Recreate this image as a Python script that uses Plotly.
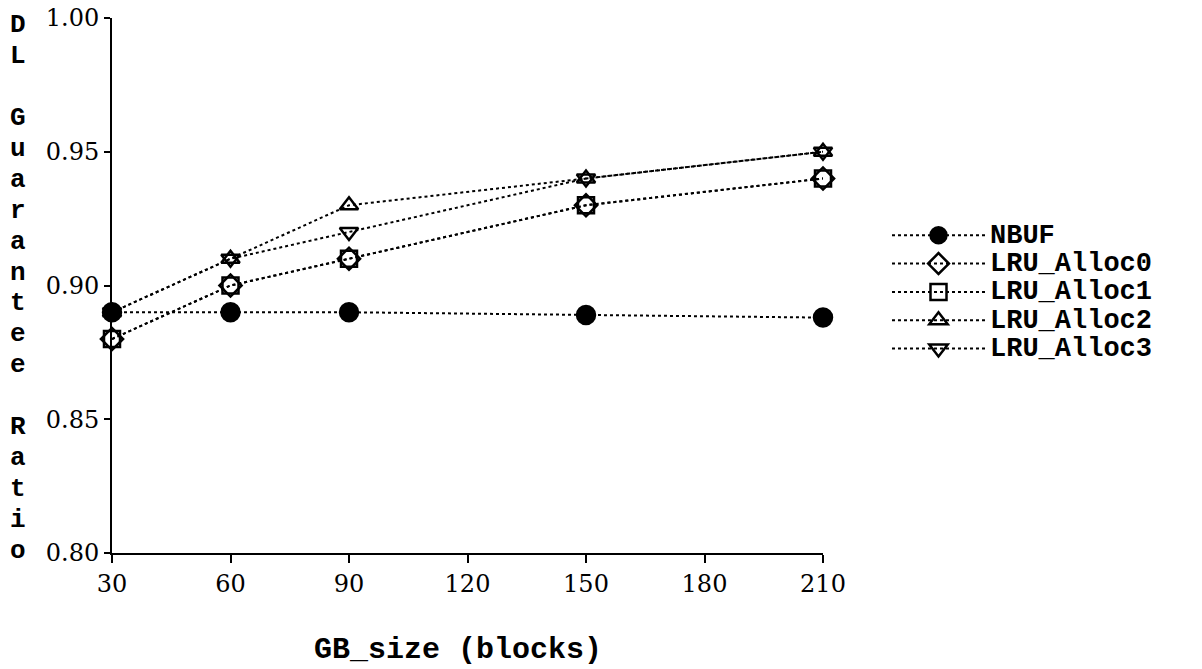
import plotly.graph_objects as go

gb_size = [30, 60, 90, 150, 210]
nbuf = [0.89, 0.89, 0.89, 0.889, 0.888]
lru_alloc0 = [0.88, 0.90, 0.91, 0.93, 0.94]
lru_alloc1 = [0.88, 0.90, 0.91, 0.93, 0.94]
lru_alloc2 = [0.89, 0.91, 0.93, 0.94, 0.95]
lru_alloc3 = [0.89, 0.91, 0.92, 0.94, 0.95]

x_ticks = [30, 60, 90, 120, 150, 180, 210]
y_ticks = [0.80, 0.85, 0.90, 0.95, 1.00]
y_title_lines = ["D", "L", "", "G", "u", "a", "r", "a", "n", "t", "e", "e", "", "R", "a", "t", "i", "o"]
x_title = "GB_size (blocks)"

series = [
    ("NBUF", nbuf, "circle", 18),
    ("LRU_Alloc0", lru_alloc0, "diamond-open", 17),
    ("LRU_Alloc1", lru_alloc1, "square-open", 16),
    ("LRU_Alloc2", lru_alloc2, "triangle-up-open", 16),
    ("LRU_Alloc3", lru_alloc3, "triangle-down-open", 16),
]

# page layout (body margin removed by post_script below)
OFF = 0
W, H = 1202, 669
PL, PR, PT, PB = 112, 823, 18, 553          # plot area in page pixels
L, T = PL - OFF, PT - OFF
PW, PH = PR - PL, PB - PT
R, B = W - L - PW, H - T - PH


def px(xp):
    return (xp - PL) / PW


def py(yp):
    return 1 - (yp - PT) / PH


fig = go.Figure()
for name, vals, sym, size in series:
    fig.add_trace(go.Scatter(
        x=gb_size, y=vals, mode="lines+markers",
        name=f'<span style="font-size:27px">{name}</span>',
        line=dict(color="black", width=2, dash="dot"),
        marker=dict(symbol=sym, size=size, color="black",
                    line=dict(color="black", width=2.5)),
        cliponaxis=False,
    ))

tickfont = dict(family="DejaVu Serif", size=24, color="black")
fig.update_layout(
    width=W, height=H,
    margin=dict(l=L, r=R, t=T, b=B, autoexpand=False),
    paper_bgcolor="white", plot_bgcolor="white",
    showlegend=True,
    legend=dict(x=px(887), y=py(216), xanchor="left", yanchor="top",
                font=dict(family="Liberation Mono", size=19.5, color="black", weight="bold"),
                itemwidth=93, tracegroupgap=0, bgcolor="rgba(0,0,0,0)"),
    xaxis=dict(range=[30, 210], tickvals=x_ticks, ticktext=[str(v) for v in x_ticks],
               showgrid=False, zeroline=False, showline=True, linecolor="black", linewidth=2,
               ticks="outside", ticklen=8, tickwidth=2, tickcolor="black",
               tickfont=tickfont, automargin=False, ticklabeloverflow="allow"),
    yaxis=dict(range=[0.80, 1.00], tickvals=y_ticks, ticktext=[f"{v:.2f}" for v in y_ticks],
               showgrid=False, zeroline=False, showline=True, linecolor="black", linewidth=2,
               ticks="outside", ticklen=6, tickwidth=2, tickcolor="black",
               tickfont=tickfont, automargin=False, ticklabeloverflow="allow"),
)

# x-axis title
fig.add_annotation(text=x_title, xref="paper", yref="paper",
                   x=px(458), y=py(650), showarrow=False,
                   xanchor="center", yanchor="middle",
                   font=dict(family="Liberation Mono", size=30, color="black", weight="bold"))

# vertical stacked y-axis title
n = len(y_title_lines)
top_c, bot_c = 25, 551
for i, ch in enumerate(y_title_lines):
    if not ch:
        continue
    yc = top_c + (bot_c - top_c) * i / (n - 1)
    fig.add_annotation(text=ch, xref="paper", yref="paper",
                       x=px(18), y=py(yc), showarrow=False,
                       xanchor="center", yanchor="middle",
                       font=dict(family="Liberation Mono", size=26, color="black", weight="bold"))

fig.write_html("out.html", config={"displayModeBar": False},
               post_script="document.body.style.margin='0';document.body.style.overflow='hidden';")
